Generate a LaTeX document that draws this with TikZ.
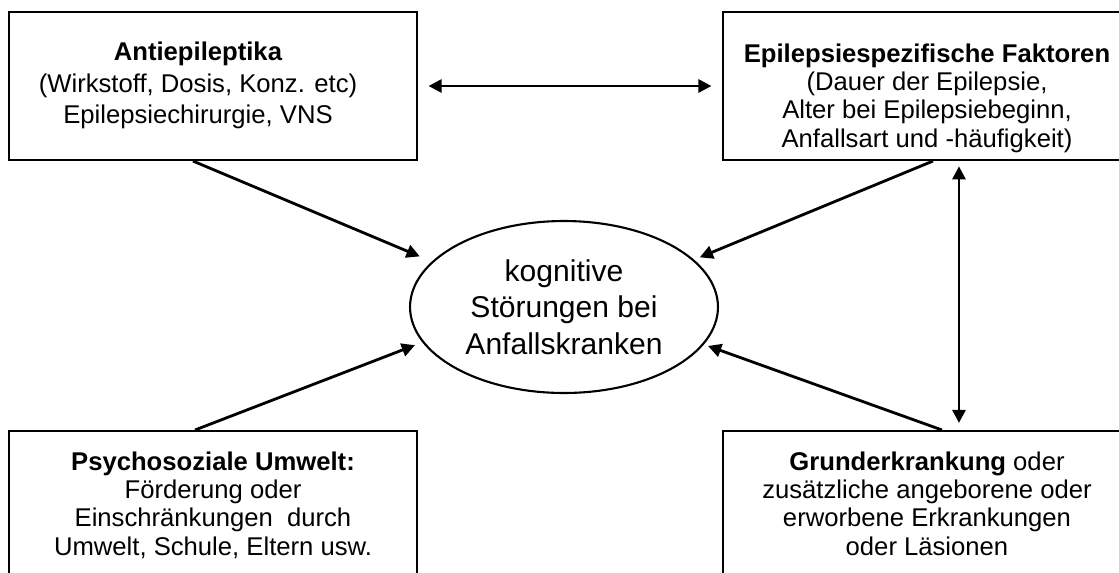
\documentclass[tikz,border=0pt]{standalone}
\usepackage{fontspec}
\setmainfont{Liberation Sans}
\usetikzlibrary{shapes.geometric,arrows.meta,positioning}

\begin{document}
\begin{tikzpicture}[x=0.02cm,y=-0.02cm,
   box/.style={draw,line width=1.2pt,minimum width=8.16cm,minimum height=2.96cm,inner sep=0pt},
   boxtext/.style={align=center,anchor=base,inner sep=0pt,font=\fontsize{14.6pt}{16.1pt}\selectfont},
   arr/.style={line width=1.6pt,-{Triangle[length=7.5pt,width=7.5pt]}},
   darr/.style={line width=1.6pt,{Triangle[length=7.5pt,width=7.5pt]}-{Triangle[length=7.5pt,width=7.5pt]}}]
   \useasboundingbox (0,0) rectangle (1119,572);
   \clip (0,0) rectangle (1119,572);

   % the four boxes
   \node[box] (anti) at (213,86) {};
   \node[box] (fak) at (927,86) {};
   \node[box] (psy) at (213,505) {};
   \node[box] (grund) at (927,505) {};

   % texts (base = last line)
   \node[boxtext] (antiT) at (198,123)
      {\textbf{Antiepileptika}\\[2pt](Wirkstoff, Dosis, Konz. etc)\\[1.5pt]Epilepsiechirurgie, VNS};
   \node[boxtext] (fakT) at (927,147)
      {\textbf{Epilepsiespezifische Faktoren}\\(Dauer der Epilepsie,\\Alter bei Epilepsiebeginn,\\Anfallsart und -häufigkeit)};
   \node[boxtext] (psyT) at (213,555)
      {\textbf{Psychosoziale Umwelt:}\\Förderung oder\\Einschränkungen\ \ durch\\Umwelt, Schule, Eltern usw.};
   \node[boxtext] (grundT) at (927,555)
      {\textbf{Grunderkrankung} oder\\zusätzliche angeborene oder\\erworbene Erkrankungen\\oder Läsionen};

   % centre
   \node[draw,ellipse,line width=1.2pt,minimum width=6.16cm,minimum height=3.44cm,align=center,
      font=\fontsize{17.1pt}{20.7pt}\selectfont] (cog) at (564,307)
      {kognitive\\Störungen bei\\Anfallskranken};

   \path[arr]
   ([xshift=-11.4pt]anti.south) edge[shorten >=7.5pt] (cog.161)
   ([xshift=3.4pt]fak.south) edge[shorten >=3.5pt] (cog.20)
   ([xshift=-10.2pt]psy.north) edge[shorten >=4.5pt] (cog.194)
   ([xshift=8.5pt]grund.north) edge[shorten >=2.5pt] (cog.345);

   \draw[darr,shorten <=6pt,shorten >=6pt] (anti) -- (fak);
   \draw[darr,shorten <=3pt,shorten >=4pt] ([xshift=18.2pt]fak.south) -- ([xshift=18.2pt]grund.north);
\end{tikzpicture}
\end{document}
